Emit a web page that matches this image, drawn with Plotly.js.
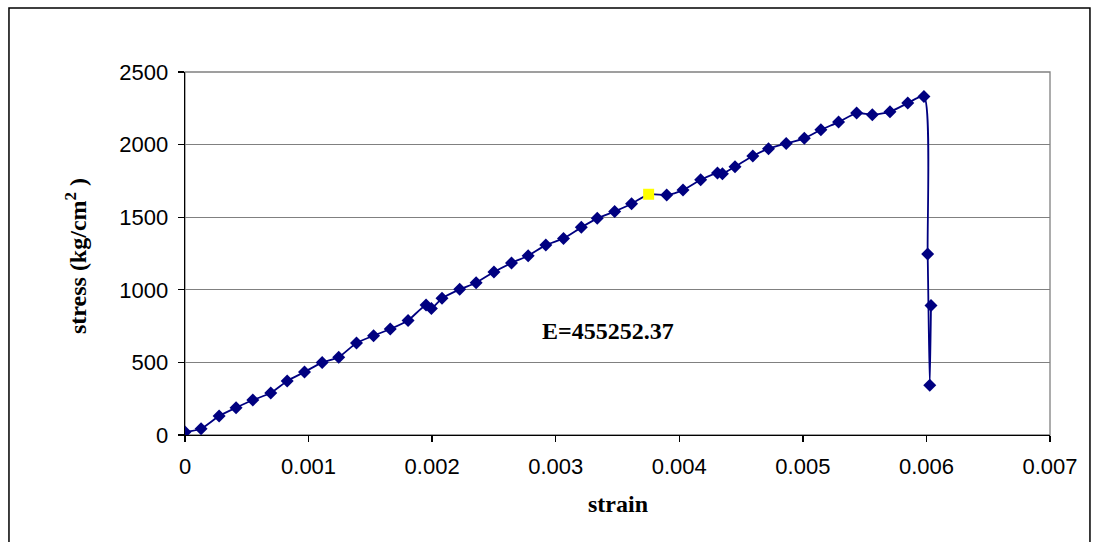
<!DOCTYPE html>
<html>
<head>
<meta charset="utf-8">
<script src="https://cdn.plot.ly/plotly-3.0.1.min.js"></script>
<style>
  html, body { margin: 0; padding: 0; background: #ffffff; }
  #chart { width: 1098px; height: 542px; }
</style>
</head>
<body>
<div id="chart"></div>
<script>
// Stress-strain test readings
const strain = [
  0, 0.000130, 0.000276, 0.000413, 0.000549, 0.000694, 0.000827, 0.000967,
  0.00111, 0.001244, 0.001388, 0.001526, 0.001661, 0.001805, 0.001951, 0.001994,
  0.00208, 0.002223, 0.002356, 0.0025, 0.002642, 0.002777, 0.00292, 0.003063,
  0.003207, 0.003336, 0.003477, 0.003614, 0.003752, 0.003898, 0.00403, 0.004173,
  0.004309, 0.004349, 0.004451, 0.004595, 0.004722, 0.004865, 0.005012, 0.005146,
  0.005289, 0.005435, 0.005562, 0.005705, 0.005849, 0.00598, 0.00601, 0.006027,
  0.006037
];
const stress = [
  20, 43, 131, 188, 241, 289, 372, 434,
  500, 536, 634, 684, 730, 789, 895, 872,
  941, 1003, 1049, 1123, 1185, 1235, 1308, 1354,
  1430, 1492, 1540, 1593, 1658, 1653, 1687, 1758,
  1804, 1800, 1848, 1921, 1972, 2008, 2043, 2102,
  2155, 2217, 2206, 2226, 2286, 2332, 1246, 342,
  892
];
// index of the reading shown with a highlighted marker
const highlightIndex = 28;

const xTickVals = [0, 0.001, 0.002, 0.003, 0.004, 0.005, 0.006, 0.007];
const xTickText = ['0', '0.001', '0.002', '0.003', '0.004', '0.005', '0.006', '0.007'];
const yTickVals = [0, 500, 1000, 1500, 2000, 2500];
const yTickText = ['0', '500', '1000', '1500', '2000', '2500'];

const modulusLabel = 'E=455252.37';
const xTitle = 'strain';
const yTitle = 'stress (kg/cm<sup>2</sup> )';

const navy = '#000080';
const markerColors = strain.map((_, i) => i === highlightIndex ? '#ffff00' : navy);
const markerSymbols = strain.map((_, i) => i === highlightIndex ? 'square' : 'diamond');
const markerSizes = strain.map((_, i) => i === highlightIndex ? 11 : 10);

const trace = {
  x: strain,
  y: stress,
  type: 'scatter',
  mode: 'lines+markers',
  line: { color: navy, width: 1.8, shape: 'spline', smoothing: 0.6 },
  marker: { color: markerColors, symbol: markerSymbols, size: markerSizes, opacity: 1, line: { width: 0 } },
  hoverinfo: 'x+y',
  showlegend: false
};

const tickFont = { family: 'Liberation Sans, Arial, sans-serif', size: 22, color: '#000000' };
const titleFont = { family: 'Liberation Serif, Times New Roman, serif', size: 24, color: '#000000', weight: 'bold' };

const layout = {
  width: 1098,
  height: 542,
  margin: { l: 185, r: 48, t: 72, b: 107 },
  paper_bgcolor: '#ffffff',
  plot_bgcolor: '#ffffff',
  showlegend: false,
  xaxis: {
    range: [0, 0.007],
    tickvals: xTickVals,
    ticktext: xTickText,
    showgrid: false,
    zeroline: false,
    showline: true,
    linecolor: '#000000',
    linewidth: 1.3,
    ticks: 'outside',
    ticklen: 6,
    tickcolor: '#000000',
    tickwidth: 1.3,
    ticklabelstandoff: 5,
    tickfont: tickFont,
    fixedrange: true
  },
  yaxis: {
    range: [0, 2500],
    tickvals: yTickVals,
    ticktext: yTickText,
    showgrid: true,
    gridcolor: '#808080',
    gridwidth: 1.3,
    zeroline: false,
    showline: true,
    linecolor: '#000000',
    linewidth: 1.3,
    ticks: 'outside',
    ticklen: 6,
    tickcolor: '#000000',
    tickwidth: 1.3,
    ticklabelstandoff: 5,
    tickfont: tickFont,
    fixedrange: true
  },
  shapes: [
    // plot area frame
    { type: 'rect', xref: 'paper', yref: 'paper', x0: 0, x1: 1, y0: 0, y1: 1,
      line: { color: '#808080', width: 1.3 }, layer: 'below' },
    // chart area frame
    { type: 'rect', xref: 'paper', yref: 'paper', x0: -0.2035, x1: 1.0462, y0: -0.31, y1: 1.1763,
      line: { color: '#000000', width: 1.5 }, layer: 'below' }
  ],
  annotations: [
    { text: modulusLabel, xref: 'paper', yref: 'paper', x: (608 - 185) / 865, y: (435 - 331) / 363,
      xanchor: 'center', yanchor: 'middle', showarrow: false, font: titleFont },
    { text: xTitle, xref: 'paper', yref: 'paper', x: (618 - 185) / 865, y: (435 - 504) / 363,
      xanchor: 'center', yanchor: 'middle', showarrow: false, font: titleFont },
    { text: yTitle, xref: 'paper', yref: 'paper', x: (76 - 185) / 865, y: (435 - 256) / 363,
      xanchor: 'center', yanchor: 'middle', textangle: -90, showarrow: false, font: titleFont }
  ]
};

Plotly.newPlot('chart', [trace], layout, { displayModeBar: false, staticPlot: true });
</script>
</body>
</html>
